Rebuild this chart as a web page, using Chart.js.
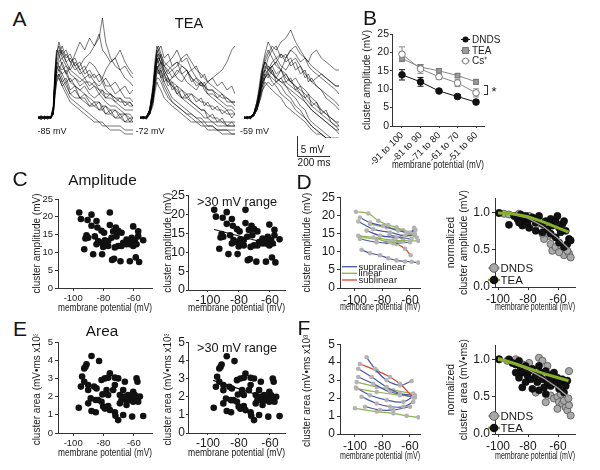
<!DOCTYPE html>
<html>
<head>
<meta charset="utf-8">
<script src="https://cdn.jsdelivr.net/npm/chart.js@4.4.1/dist/chart.umd.min.js"></script>
<style>
html, body { margin: 0; padding: 0; background: #fff; }
body { width: 600px; height: 470px; position: relative; overflow: hidden; font-family: 'Liberation Sans', Arial, sans-serif; color: #151515; }
canvas { position: absolute; }
.t { position: absolute; line-height: 1; white-space: nowrap; transform: translate(-50%, -50%); }
.ln { position: absolute; border-color: #333; border-style: solid; border-width: 0; }
</style>
</head>
<body>
<script>
// ---- A: example traces (mV above baseline), one array per sweep
var A_TIME = [0,20,40,60,80,95,105,115,130,150,175,200,230,260,290,320,350,380,400,420,450,480,510,540,570,590];
var A_TRACES_85 = [
  [0,0.6,-0.4,0.5,0.1,2,9,14,16,13,11,9,8,7,6,5,4,4,3,3,2,2,1,1,0,0],
  [0.3,-0.3,0.5,0,0.4,3,11,16,18,15,13,12,14,12,10,11,9,8,9,7,6,5,5,4,3,3],
  [-0.3,0.4,0,0.3,-0.2,1,6,10,11,9,7,5,4,3,2,1,0,-1,-1,-2,-2,-2,-2,-3,-3,-3],
  [0.2,0,0.4,-0.3,0.2,2,8,12,14,15,16,14,12,13,15,16,18,20,25,19,15,13,12,10,9,8],
  [0,0.3,-0.2,0.2,0,2,10,15,17,16,14,15,13,11,12,14,13,11,10,12,14,15,17,14,12,11],
  [0.4,0,0.2,0,0.3,1,7,11,12,10,8,6,5,5,4,3,3,2,2,1,1,0,0,-1,-1,-1],
  [0,-0.3,0.3,0.2,0,2,9,13,15,17,14,12,11,10,9,9,8,7,7,6,6,5,4,4,4,3],
  [0.2,0.2,0,0.4,0.1,1,5,9,10,8,6,4,3,2,1,0,-1,-1,-2,-2,-3,-3,-3,-4,-4,-4],
  [0,0.2,0.1,-0.2,0.3,2,10,14,13,12,13,11,10,9,10,8,9,7,6,5,5,4,3,2,2,2],
  [0.1,-0.1,0.3,0,0.2,2,8,12,12,11,9,10,8,7,8,6,5,6,5,4,3,3,2,1,1,0],
  [0.2,-0.4,0.3,0.1,0.3,1,7,12,13,11,12,9,10,8,9,7,8,6,7,5,6,4,5,3,4,3],
  [-0.1,0.3,0.1,0.4,0,3,12,17,16,18,15,16,13,14,11,12,10,11,9,10,8,9,7,8,6,7],
  [0.3,0.1,-0.2,0.2,0.4,1,6,9,11,9,10,7,8,5,6,4,3,4,2,3,1,2,0,1,-1,0],
  [0,0.5,0.2,-0.2,0.1,2,9,13,12,14,11,13,16,19,17,20,18,21,17,16,14,15,12,13,11,10],
  [0.1,0,0.4,0.2,-0.1,1,8,11,10,8,9,6,7,5,5,3,4,2,3,1,2,0,1,-1,0,-1],
  [0.2,0.3,0,0.1,0.2,2,10,16,19,16,17,14,15,12,13,10,11,9,10,8,8,6,7,5,5,4]
];
var A_TRACES_72 = [
  [0,0.4,-0.2,1,5,12,16,17,15,12,10,8,7,5,4,3,2,1,0,0,-1,-1,-1,-2,-2,-2],
  [0.3,0,0.3,2,7,13,17,18,16,14,13,12,13,15,16,14,12,11,10,9,8,7,6,5,4,4],
  [-0.2,0.3,0,1,4,9,12,13,11,9,7,5,4,3,2,1,0,-1,-1,-2,-2,-3,-3,-3,-3,-3],
  [0.2,-0.2,0.4,2,6,11,14,15,14,13,11,12,10,9,11,12,10,9,8,9,10,11,12,14,17,18],
  [0,0.2,-0.3,1,5,10,13,12,10,8,6,4,3,2,1,0,-1,-1,-2,-2,-2,-3,-3,-3,-4,-4],
  [0.4,0,0.2,2,7,14,16,15,14,12,10,9,8,7,6,6,5,4,4,3,3,2,2,1,1,1],
  [0,0.3,0.1,1,6,12,15,16,15,13,12,13,14,13,12,10,9,8,8,7,7,6,5,5,4,4],
  [0.1,-0.2,0.3,1,4,8,10,10,9,7,5,4,3,2,1,1,0,0,-1,-1,-1,-2,-2,-2,-2,-2],
  [0.2,0.1,0,2,6,13,17,16,13,11,9,10,12,11,9,8,7,9,8,6,5,4,3,2,2,1],
  [0,0.2,0.2,1,5,11,14,14,12,10,9,8,6,5,5,4,3,2,2,1,0,0,-1,-1,-1,-1],
  [0.1,-0.2,0.3,2,8,15,18,17,18,15,16,13,14,11,12,9,10,8,9,7,7,5,6,4,4,3],
  [0.2,0.3,0,1,4,10,13,11,12,9,10,7,8,5,6,4,3,2,2,0,1,-1,0,-2,-1,-2],
  [-0.2,0.1,0.3,2,6,12,15,14,16,13,14,15,17,14,15,12,13,10,11,9,10,8,9,7,8,6],
  [0.3,0,0.2,1,5,9,11,12,10,11,8,9,6,7,5,6,4,5,3,4,2,3,1,2,0,1],
  [0,0.2,-0.1,1,3,7,9,8,7,5,4,3,2,1,0,-1,-1,-2,-2,-3,-3,-3,-4,-4,-4,-4],
  [0.1,0.3,0.1,2,7,13,15,13,14,11,12,10,11,13,12,10,8,9,7,6,6,5,4,3,3,2]
];
var A_TRACES_59 = [
  [0,0.4,-0.2,1,3,6,8,10,12,13,12,10,9,8,7,6,5,4,3,2,1,0,-1,-2,-3,-3],
  [0.3,0,0.4,1,4,7,10,12,14,16,18,17,19,20,22,19,17,15,14,13,12,11,10,9,8,8],
  [-0.2,0.3,0,0.5,2,4,6,8,10,11,10,9,8,6,5,3,2,0,-1,-2,-3,-4,-5,-5,-6,-6],
  [0.2,-0.2,0.4,1,3,6,9,11,13,12,13,14,16,15,17,18,16,15,14,16,17,15,14,13,12,12],
  [0,0.2,-0.3,1,3,5,8,11,12,11,9,8,6,5,4,2,1,0,-1,-2,-3,-4,-5,-6,-7,-8],
  [0.4,0,0.2,1,4,7,9,12,15,17,15,13,12,10,9,8,7,6,5,4,3,2,1,0,-1,-1],
  [0,0.3,0.1,0.5,3,5,7,9,10,12,14,15,13,12,14,15,13,11,10,9,10,11,10,9,8,8],
  [0.1,-0.2,0.3,1,2,4,6,7,9,8,7,6,5,3,2,1,0,-1,-2,-3,-4,-4,-5,-5,-5,-5],
  [0.2,0.1,0,1,3,6,9,12,14,13,11,10,12,11,9,8,6,4,3,2,1,0,-1,-2,-3,-4],
  [0,0.2,0.2,0.5,2,5,7,9,11,12,11,10,9,9,8,7,6,5,4,3,2,1,0,-1,-2,-2],
  [0.2,-0.2,0.3,1,2,5,7,10,12,15,17,15,16,14,15,12,13,10,11,9,8,7,6,5,4,3],
  [0.1,0.3,0,0.5,3,6,8,9,11,10,12,9,10,8,6,5,3,2,0,-1,-2,-3,-4,-5,-6,-7],
  [-0.1,0.2,0.4,1,4,8,11,13,16,19,17,18,15,16,13,14,11,12,9,10,8,7,5,4,3,2],
  [0.3,0,0.2,0.5,2,4,5,7,8,9,8,9,10,11,9,10,8,7,6,5,4,2,1,0,-1,-2],
  [0,0.2,0.1,1,3,6,9,12,14,12,13,11,12,9,10,7,8,5,6,3,4,1,2,-1,-2,-3],
  [0.2,0.1,0.3,1,3,5,7,8,10,11,13,14,12,15,17,16,14,15,13,12,11,10,9,8,7,6]
];

// ---- B: mean +- SEM per voltage bin
var B_CATS = ['-91 to 100', '-81 to 90', '-71 to 80', '-61 to 70', '-51 to 60'];
var B_DNDS = [13.9, 12.0, 9.5, 8.0, 6.5];
var B_DNDS_SEM = [1.4, 1.2, 0.4, 0.4, 0.5];
var B_TEA = [18.3, 16.0, 15.0, 13.7, 12.0];
var B_TEA_SEM = [0.8, 0.7, 0.6, 0.5, 0.7];
var B_CS = [19.5, 15.5, 13.4, 11.7, 9.0];
var B_CS_SEM = [2.0, 1.2, 0.7, 1.0, 1.1];

// ---- C: amplitude vs potential
var C_X = [-96.0,-94.9,-87.9,-90.5,-84.6,-87.9,-75.8,-84.0,-75.8,-81.3,
           -71.9,-60.4,-91.2,-90.1,-91.9,-92.7,-86.8,-80.9,-79.6,-83.5,
           -84.6,-81.3,-79.1,-76.9,-73.6,-70.3,-68.1,-71.4,-74.7,-57.1,
           -57.1,-53.8,-59.3,-62.6,-64.8,-67.0,-70.3,-72.5,-68.1,-60.4,
           -58.2,-74.3,-73.0,-68.8,-62.6,-58.7,-56.5,-76.9,-80.2,-78.0,
           -85.7,-64.8,-62.6,-61.4];
var C_Y = [21.2,19.4,20.6,19.1,18.8,17.5,21.2,17.0,17.7,16.1,
           17.0,17.3,14.8,14.1,13.9,10.9,9.5,9.5,15.5,13.2,
           12.3,12.7,13.4,13.2,15.9,16.1,15.5,14.5,14.1,15.9,
           14.5,13.4,13.2,13.4,13.6,12.7,11.8,11.4,11.8,11.8,
           12.3,7.9,8.2,7.5,7.5,8.6,7.3,11.8,11.5,12.3,
           14.5,12.3,12.3,14.1];
var C_FIT_X = [-96, -56];
var C_FIT_Y = [16.0, 11.7];

// ---- E: area vs potential
var E_X = [-87.9,-82.9,-91.2,-91.9,-92.7,-94.1,-92.7,-94.9,-90.1,-86.2,
           -81.3,-79.1,-76.9,-75.8,-72.5,-70.3,-84.6,-90.1,-88.4,-85.1,
           -80.7,-78.0,-76.9,-72.5,-73.6,-65.9,-67.0,-69.2,-58.2,-57.6,
           -60.4,-59.3,-61.5,-63.7,-62.6,-58.2,-56.0,-57.1,-60.4,-64.8,
           -65.9,-68.1,-69.2,-64.8,-96.3,-90.1,-87.9,-85.1,-80.2,-76.9,
           -75.8,-79.1,-72.5,-72.1,-70.3,-67.0,-61.1,-53.8,-83.5,-81.3];
var E_Y = [4.23,3.96,3.77,3.64,3.55,3.10,2.82,2.55,2.64,2.55,
           2.91,3.00,3.04,3.28,3.04,3.00,2.45,2.36,1.90,1.81,
           2.12,2.36,2.09,2.64,2.36,2.82,2.36,2.09,3.00,2.82,
           2.27,2.09,2.00,2.09,1.81,1.90,2.00,1.72,1.72,1.81,
           2.00,1.81,1.63,1.54,1.39,1.63,1.21,1.14,1.45,1.48,
           1.26,1.34,1.14,0.95,0.71,0.99,0.90,0.93,1.81,1.72];
var E_FIT_X = [-96.7, -57];
var E_FIT_Y = [2.9, 1.8];

// ---- D left: per-cell amplitude curves
var D_LINE_X = [
  [-99.3,-90.3,-83.0,-75.8,-69.7,-62.4,-55.1],
  [-96.4,-89.1,-79.4,-68.5,-60.0,-56.0],
  [-97.6,-86.7,-74.5,-63.6,-56.4],
  [-97.6,-86.7,-72.1,-60.0,-54.0],
  [-96.4,-84.2,-74.5,-64.9],
  [-96.4,-84.2,-72.1,-60.0],
  [-77.0,-69.7,-63.6,-59.5],
  [-95.2,-89.1,-81.8,-75.8,-69.7,-63.6,-58.8,-54.0],
  [-91.5,-81.8,-69.7,-58.8],
  [-89.1,-77.0,-64.9,-56.4],
  [-75.0,-66.0,-60.0,-57.0]
];
var D_LINE_Y = [
  [21.0,20.5,18.5,17.3,16.7,15.3,13.9],
  [19.4,18.0,17.1,15.8,15.3,16.0],
  [18.3,16.2,15.3,14.4,14.6],
  [14.4,13.9,13.2,13.0,13.0],
  [13.9,13.5,12.6,13.0],
  [13.5,12.6,12.3,12.6],
  [12.6,12.1,10.8,9.0],
  [10.5,9.6,9.0,8.2,7.6,7.3,7.2,7.0],
  [15.8,14.4,13.9,13.6],
  [17.6,16.7,15.9,14.9],
  [14.6,14.0,14.8,16.6]
];
var D_LINE_TYPE = ['linear','supralinear','supralinear','linear','linear','supralinear','sublinear','supralinear','supralinear','linear','supralinear'];

// ---- F left: per-cell area curves
var F_LINE_X = [
  [-91.5,-85.5,-77.0,-67.3,-58.8],
  [-96.4,-84.2,-74.5,-67.3,-57.6],
  [-97.6,-87.9,-77.0,-67.3,-56.4],
  [-97.6,-86.7,-74.5,-57.6],
  [-98.8,-84.2,-72.1,-57.6],
  [-98.8,-84.2,-67.3,-57.6],
  [-99.3,-89.1,-77.0,-64.8,-56.4],
  [-95.2,-84.2,-74.5,-64.8,-57.6],
  [-92.7,-81.8,-72.1,-60.0],
  [-100.0,-84.2,-72.1,-62.4,-53.9]
];
var F_LINE_Y = [
  [4.27,3.63,2.99,2.71,2.95],
  [3.90,3.53,3.17,2.80,2.03],
  [3.63,3.17,2.62,2.25,2.03],
  [3.17,2.80,2.34,2.16],
  [2.89,2.62,2.44,2.25],
  [2.53,2.34,2.16,2.07],
  [2.58,2.16,1.89,1.79,2.16],
  [2.07,1.70,1.52,1.52,1.79],
  [1.52,1.34,1.34,1.52],
  [1.43,1.25,1.15,1.01,0.93]
];
var F_LINE_TYPE = ['supralinear','sublinear','supralinear','supralinear','linear','linear','supralinear','supralinear','supralinear','linear'];

// ---- D right: normalized amplitude
var DR_TEA_X = [-99.3,-92.7,-89.3,-87.1,-84.9,-83.8,-81.6,-80.4,-79.3,-77.1,
                -74.9,-72.7,-70.4,-68.2,-67.1,-64.9,-63.8,-61.6,-60.4,-59.3,
                -58.2,-57.1,-56.0,-54.9,-52.7,-53.8,-61.6,-64.9,-70.4,-74.9,
                -79.3,-83.8,-86.0,-59.3,-56.0,-51.6];
var DR_TEA_Y = [1.00,0.84,0.96,0.92,0.98,0.89,0.96,0.85,0.92,0.94,
                0.87,0.96,0.85,0.89,0.78,0.92,0.83,0.89,0.96,0.80,
                0.74,0.85,0.89,0.76,0.65,0.58,0.67,0.72,0.74,0.76,
                0.80,0.83,0.87,0.60,0.54,0.63];
var DR_DNDS_X = [-99.3,-96.0,-92.7,-86.0,-79.3,-72.7,-68.2,-66.0,-69.3,-64.9,
                 -63.8,-61.6,-58.2,-57.1,-56.0,-52.7,-51.6,-53.8,-59.3,-70.4,
                 -74.9,-81.6];
var DR_DNDS_Y = [1.00,0.99,0.98,0.99,0.96,0.93,0.80,0.69,0.65,0.58,
                 0.49,0.54,0.56,0.49,0.43,0.45,0.40,0.49,0.47,0.72,
                 0.83,0.89];
var DR_FIT_X = [-100, -90, -80, -70, -60, -53];
var DR_FIT_TEA = [1.0, 0.99, 0.95, 0.88, 0.80, 0.74];
var DR_FIT_DNDS = [1.0, 0.98, 0.93, 0.82, 0.66, 0.52];

// ---- F right: normalized area
var FR_TEA_X = [-99.3,-92.7,-90.4,-88.2,-86.0,-84.9,-83.8,-81.6,-80.4,-79.3,
                -78.2,-77.1,-74.9,-73.8,-72.7,-71.6,-70.4,-69.3,-68.2,-67.1,
                -66.0,-64.9,-63.8,-62.7,-61.6,-60.4,-59.3,-58.2,-57.1,-56.0,
                -54.9,-53.8,-81.6,-86.0,-88.2,-77.1,-72.7,-68.2,-83.8];
var FR_TEA_Y = [1.01,1.01,0.96,0.94,0.99,0.90,0.83,0.92,0.79,0.85,
                0.74,0.88,0.79,0.70,0.92,0.83,0.74,0.63,0.85,0.70,
                0.79,0.65,0.74,0.83,0.68,0.76,0.61,0.70,0.74,0.56,
                0.65,0.72,0.70,0.76,0.83,0.61,0.59,0.54,0.63];
var FR_DNDS_X = [-99.3,-93.8,-88.2,-83.8,-79.3,-72.7,-70.4,-67.1,-63.8,-64.9,
                 -62.7,-60.4,-59.3,-58.2,-57.1,-54.9,-56.0,-53.8,-52.7,-53.1,
                 -51.6,-60.4,-68.2,-74.9,-52.7];
var FR_DNDS_Y = [1.01,0.99,1.01,0.94,0.96,1.03,0.99,0.92,0.81,0.52,
                 0.48,0.50,0.43,0.54,0.41,0.36,0.45,0.32,0.39,0.48,
                 0.25,0.34,0.43,0.56,0.85];
var FR_FIT_X = [-100, -90, -80, -70, -60, -53];
var FR_FIT_TEA = [1.02, 0.96, 0.89, 0.82, 0.76, 0.72];
var FR_FIT_DNDS = [1.0, 0.95, 0.87, 0.76, 0.62, 0.50];

var FONT = "'Liberation Sans', Arial, sans-serif";
var TYPE_COLOR = { supralinear: '#4a56a8', linear: '#8db24c', sublinear: '#dc3f2c' };
Chart.defaults.font.family = FONT;
Chart.defaults.color = '#1a1a1a';

function pts(xs, ys) {
  return xs.map(function (x, i) { return { x: x, y: ys[i] }; });
}

function canvasAt(f) {
  var c = document.createElement('canvas');
  c.width = f.w; c.height = f.h;
  c.style.left = f.left + 'px'; c.style.top = f.top + 'px';
  c.style.width = f.w + 'px'; c.style.height = f.h + 'px';
  document.body.appendChild(c);
  return c;
}

function text(str, cx, cy, size) {
  var d = document.createElement('div');
  d.className = 't';
  d.style.left = cx + 'px'; d.style.top = cy + 'px'; d.style.fontSize = size + 'px';
  d.innerHTML = str;
  document.body.appendChild(d);
}

function rule(left, top, w, h, css) {
  var d = document.createElement('div');
  d.className = 'ln';
  d.style.cssText = 'left:' + left + 'px;top:' + top + 'px;width:' + w + 'px;height:' + h + 'px;' + css;
  document.body.appendChild(d);
}

// plot box (x0,y0)-(x1,y1) plus fixed room for the y axis (wy) and x axis (hx)
function frame(x0, y0, x1, y1, wy, hx, padR) {
  padR = padR || 10;
  var left = x0 - wy, top = y0 - 8;
  return { left: left, top: top, w: x1 + padR - left, h: y1 + hx - top,
           pad: { top: 8, right: padR, left: 0, bottom: 0 } };
}

function axis(o) {
  return {
    type: 'linear', min: o.min, max: o.max,
    afterBuildTicks: function (s) { s.ticks = o.ticks.map(function (v) { return { value: v }; }); },
    afterFit: function (s) { if (o.w != null) s.width = o.w; if (o.h != null) s.height = o.h; },
    ticks: {
      font: { size: o.size }, color: '#1a1a1a', padding: o.pad == null ? 2 : o.pad, autoSkip: false,
      minRotation: o.rot || 0, maxRotation: o.rot || 0,
      callback: o.fmt || function (v) { return String(v); }
    },
    grid: { drawOnChartArea: false, drawTicks: true, tickLength: o.tl || 3, color: '#333' },
    border: { color: '#333', width: 1 },
    title: { display: true, text: o.title, font: { size: o.tsize || 10 }, padding: 0, color: '#1a1a1a' }
  };
}

function plot(f, datasets, xAx, yAx, plugins) {
  return new Chart(canvasAt(f), {
    type: 'scatter',
    data: { datasets: datasets },
    options: {
      responsive: false, animation: false, events: [],
      layout: { padding: f.pad },
      plugins: { legend: { display: false }, tooltip: { enabled: false } },
      scales: { x: xAx, y: yAx }
    },
    plugins: plugins || []
  });
}

function marker(ctx, shape, x, y, r, fill, stroke) {
  ctx.beginPath();
  if (shape === 'rect') ctx.rect(x - r, y - r, 2 * r, 2 * r);
  else ctx.arc(x, y, r, 0, Math.PI * 2);
  ctx.fillStyle = fill; ctx.fill();
  if (stroke) { ctx.strokeStyle = stroke; ctx.lineWidth = 1; ctx.stroke(); }
}

// little hand-placed key drawn onto a chart canvas (page coordinates)
function keyLegend(items, size) {
  return {
    id: 'keyLegend',
    afterDraw: function (chart) {
      var ctx = chart.ctx, ox = chart.canvas.offsetLeft, oy = chart.canvas.offsetTop;
      ctx.save();
      items.forEach(function (it) {
        var y = it.y - oy;
        if (it.line) {
          ctx.strokeStyle = it.line; ctx.lineWidth = it.lw || 1;
          ctx.beginPath(); ctx.moveTo(it.x0 - ox, y); ctx.lineTo(it.x1 - ox, y); ctx.stroke();
        }
        if (it.shape) marker(ctx, it.shape, it.mx - ox, y, it.r, it.fill, it.stroke);
        ctx.fillStyle = '#1a1a1a'; ctx.font = size + 'px ' + FONT;
        ctx.textBaseline = 'middle'; ctx.textAlign = 'left';
        ctx.fillText(it.text, it.tx - ox, y + 0.5);
      });
      ctx.restore();
    }
  };
}

var errorBars = {
  id: 'errorBars',
  beforeDatasetsDraw: function (chart) {
    var ctx = chart.ctx, x = chart.scales.x, y = chart.scales.y;
    chart.data.datasets.forEach(function (ds) {
      if (!ds.err) return;
      ctx.save();
      ctx.strokeStyle = ds.borderColor; ctx.lineWidth = 1;
      ds.data.forEach(function (p, i) {
        var px = x.getPixelForValue(p.x);
        var lo = y.getPixelForValue(p.y - ds.err[i]);
        var hi = y.getPixelForValue(p.y + ds.err[i]);
        ctx.beginPath();
        ctx.moveTo(px, lo); ctx.lineTo(px, hi);
        ctx.moveTo(px - 3, lo); ctx.lineTo(px + 3, lo);
        ctx.moveTo(px - 3, hi); ctx.lineTo(px + 3, hi);
        ctx.stroke();
      });
      ctx.restore();
    });
  }
};

// ---------- A: traces
function traceChart(left, traces) {
  var f = { left: left, top: 16, w: 95, h: 122, pad: 0 };
  new Chart(canvasAt(f), {
    type: 'scatter',
    data: {
      datasets: traces.map(function (tr) {
        return { data: pts(A_TIME, tr), showLine: true, pointRadius: 0, borderWidth: 0.7,
                 borderColor: 'rgba(0,0,0,0.78)' };
      })
    },
    options: {
      responsive: false, animation: false, events: [],
      layout: { padding: 0 },
      plugins: { legend: { display: false }, tooltip: { enabled: false } },
      scales: { x: { type: 'linear', display: false, min: 0, max: 590 },
                y: { type: 'linear', display: false, min: -5, max: 25.5 } }
    }
  });
}
traceChart(38, A_TRACES_85);
traceChart(140, A_TRACES_72);
traceChart(244, A_TRACES_59);

// ---------- B
function bSeries(vals, sem, line, shape, fill, stroke) {
  return { data: vals.map(function (v, i) { return { x: i, y: v }; }), err: sem, showLine: true,
           borderColor: line, borderWidth: 1, pointStyle: shape, pointRadius: 3.3,
           pointBackgroundColor: fill, pointBorderColor: stroke, pointBorderWidth: 1 };
}
plot(frame(392, 34, 484, 126, 31, 45, 22), [
  bSeries(B_DNDS, B_DNDS_SEM, '#111', 'circle', '#111', '#111'),
  bSeries(B_CS, B_CS_SEM, '#8a8a8a', 'circle', '#fff', '#777'),
  bSeries(B_TEA, B_TEA_SEM, '#888', 'rect', '#9a9a9a', '#777')
],
  axis({ min: -0.54, max: 4.43, ticks: [0, 1, 2, 3, 4], size: 9.5, rot: 45, h: 45, tl: 2,
         fmt: function (v) { return B_CATS[v]; }, title: 'membrane potential (mV)' }),
  axis({ min: 0, max: 25, ticks: [0, 5, 10, 15, 20, 25], size: 10.5, w: 31, tl: 2, pad: 1,
         title: 'cluster amplitude (mV)' }),
  [errorBars, keyLegend([
    { y: 39.5, x0: 461, x1: 470, line: '#111', shape: 'circle', mx: 465.5, r: 3, fill: '#111', text: 'DNDS', tx: 472 },
    { y: 50.5, x0: 461, x1: 470, line: '#888', shape: 'rect', mx: 465.5, r: 3, fill: '#9a9a9a', stroke: '#777', text: 'TEA', tx: 472 },
    { y: 61, x0: 461, x1: 470, line: '#999', shape: 'circle', mx: 465.5, r: 3, fill: '#fff', stroke: '#777', text: 'Cs\u207A', tx: 472 }
  ], 10)]);

// ---------- C and E scatter panels (first dataset is drawn on top)
function dots(xs, ys) {
  return { data: pts(xs, ys), pointRadius: 3.3, pointBackgroundColor: '#111', pointBorderWidth: 0 };
}
function fitLine(xs, ys, color, width) {
  return { data: pts(xs, ys), showLine: true, pointRadius: 0, borderColor: color, borderWidth: width };
}

plot(frame(58, 199, 152, 288, 27, 26), [dots(C_X, C_Y)],
  axis({ min: -110, max: -48, ticks: [-100, -80, -60], size: 9.5, h: 26, title: 'membrane potential (mV)' }),
  axis({ min: 0, max: 25, ticks: [0, 5, 10, 15, 20, 25], size: 9.5, w: 27, title: 'cluster amplitude (mV)' }));

plot(frame(188, 195, 285, 290, 26, 24), [fitLine(C_FIT_X, C_FIT_Y, '#111', 1.2), dots(C_X, C_Y)],
  axis({ min: -112.9, max: -50.3, ticks: [-100, -80, -60], size: 12.5, h: 24, tl: 2, pad: 1, title: 'membrane potential (mV)' }),
  axis({ min: 0, max: 25, ticks: [0, 5, 10, 15, 20, 25], size: 12.5, w: 26, tl: 2, pad: 1, title: 'cluster amplitude (mV)' }));

plot(frame(58, 342, 152, 433, 27, 26), [dots(E_X, E_Y)],
  axis({ min: -110, max: -48, ticks: [-100, -80, -60], size: 9.5, h: 26, title: 'membrane potential (mV)' }),
  axis({ min: 0, max: 5, ticks: [0, 1, 2, 3, 4, 5], size: 9.5, w: 27, title: 'cluster area (mV\u2022ms x10\u00B3)' }));

plot(frame(188, 342, 285, 433, 26, 26), [fitLine(E_FIT_X, E_FIT_Y, '#111', 1.2), dots(E_X, E_Y)],
  axis({ min: -112.9, max: -50.3, ticks: [-100, -80, -60], size: 12, h: 26, tl: 2, pad: 1, title: 'membrane potential (mV)' }),
  axis({ min: 0, max: 5, ticks: [0, 1, 2, 3, 4, 5], size: 12, w: 26, tl: 2, pad: 1, title: 'cluster area (mV\u2022ms x10\u00B3)' }));

// ---------- D / F left: per-cell curves
function cellLines(xsList, ysList, types) {
  return xsList.map(function (xs, i) {
    return { data: pts(xs, ysList[i]), showLine: true, tension: 0.4, borderWidth: 1.2,
             borderColor: TYPE_COLOR[types[i]], pointRadius: 2.3,
             pointBackgroundColor: '#b3b3b3', pointBorderWidth: 0 };
  });
}
var typeKey = keyLegend([
  { y: 266.7, x0: 342, x1: 357, line: TYPE_COLOR.supralinear, lw: 1.3, text: 'supralinear', tx: 358.5 },
  { y: 273.3, x0: 342, x1: 357, line: TYPE_COLOR.linear, lw: 1.3, text: 'linear', tx: 358.5 },
  { y: 280, x0: 342, x1: 357, line: TYPE_COLOR.sublinear, lw: 1.3, text: 'sublinear', tx: 358.5 }
], 9.5);

plot(frame(340, 196, 420, 288, 39, 25), cellLines(D_LINE_X, D_LINE_Y, D_LINE_TYPE),
  axis({ min: -110.9, max: -52.7, ticks: [-100, -80, -60], size: 12, h: 25, title: 'membrane potential (mV)' }),
  axis({ min: 0, max: 25, ticks: [0, 5, 10, 15, 20, 25], size: 12, w: 39, title: 'cluster amplitude (mV)' }),
  [typeKey]);

plot(frame(340, 343, 420, 434, 39, 28), cellLines(F_LINE_X, F_LINE_Y, F_LINE_TYPE),
  axis({ min: -110.9, max: -52.7, ticks: [-100, -80, -60], size: 12, h: 28, title: 'membrane potential (mV)' }),
  axis({ min: 0, max: 5, ticks: [0, 1, 2, 3, 4, 5], size: 12, w: 39, title: 'cluster area (mV\u2022ms x10\u00B3)' }));

// ---------- D / F right: normalized (fit lines on top, gray DNDS beneath)
function normSets(tx, ty, dx, dy, fx, ftea, fdnds) {
  return [
    fitLine(fx, ftea, '#87b02a', 3),
    fitLine(fx, fdnds, '#9c9c9c', 1.4),
    { data: pts(tx, ty), pointRadius: 3.6, pointBackgroundColor: '#111', pointBorderColor: '#000', pointBorderWidth: 0.5 },
    { data: pts(dx, dy), pointRadius: 3.6, pointBackgroundColor: '#a9a9a9', pointBorderColor: '#555', pointBorderWidth: 0.8 }
  ];
}
function normKey(y1, y2) {
  return keyLegend([
    { y: y1, x0: 488, x1: 500, line: '#999', lw: 1.2, shape: 'circle', mx: 494, r: 4.3, fill: '#a9a9a9', stroke: '#555', text: 'DNDS', tx: 500.5 },
    { y: y2, x0: 488, x1: 500, line: '#87b02a', lw: 2.5, shape: 'circle', mx: 494, r: 4.3, fill: '#111', text: 'TEA', tx: 500.5 }
  ], 11.5);
}

plot(frame(495, 197, 575, 287, 50, 26), normSets(DR_TEA_X, DR_TEA_Y, DR_DNDS_X, DR_DNDS_Y, DR_FIT_X, DR_FIT_TEA, DR_FIT_DNDS),
  axis({ min: -102, max: -48.7, ticks: [-100, -80, -60], size: 12, h: 26, title: 'membrane potential (mV)', tsize: 10.5 }),
  axis({ min: 0, max: 1.2, ticks: [0, 0.5, 1], size: 12, w: 50, tsize: 10.5,
         fmt: function (v) { return v.toFixed(1); }, title: ['normalized', 'cluster amplitude (mV)'] }),
  [normKey(268, 280)]);

plot(frame(495, 344, 575, 434, 50, 28), normSets(FR_TEA_X, FR_TEA_Y, FR_DNDS_X, FR_DNDS_Y, FR_FIT_X, FR_FIT_TEA, FR_FIT_DNDS),
  axis({ min: -102, max: -48.7, ticks: [-100, -80, -60], size: 12, h: 28, title: 'membrane potential (mV)', tsize: 10.5 }),
  axis({ min: 0, max: 1.2, ticks: [0, 0.5, 1], size: 12, w: 50, tsize: 10.5,
         fmt: function (v) { return v.toFixed(1); }, title: ['normalized', 'cluster  area (mV\u2022ms)'] }),
  [normKey(416, 428)]);

// ---------- labels and annotations
text('A', 19.5, 17.5, 21);
text('TEA', 189, 22.5, 14.6);
text('-85 mV', 52, 131, 9);
text('-72 mV', 150, 131, 9);
text('-59 mV', 254.5, 131, 9);
rule(297, 136, 0, 20, 'border-left-width:1px;');
rule(297, 156, 33, 0, 'border-top-width:1px;');
text('5 mV', 312.5, 149.5, 10);
text('200 ms', 314, 163, 10);
text('B', 370, 17, 21);
rule(484, 85, 3, 8, 'border-width:1px 1px 1px 0;');
text('*', 494, 91, 13);
text('C', 20, 177.5, 21);
text('Amplitude', 102.5, 179.5, 15.4);
text('D', 304, 180.5, 21);
text('&gt;30 mV range', 237, 201.5, 12.7);
text('E', 20, 327.5, 21);
text('Area', 102, 330.5, 15.3);
text('&gt;30 mV range', 237, 347.5, 12.7);
text('F', 304, 326.5, 21);
</script>
</body>
</html>
